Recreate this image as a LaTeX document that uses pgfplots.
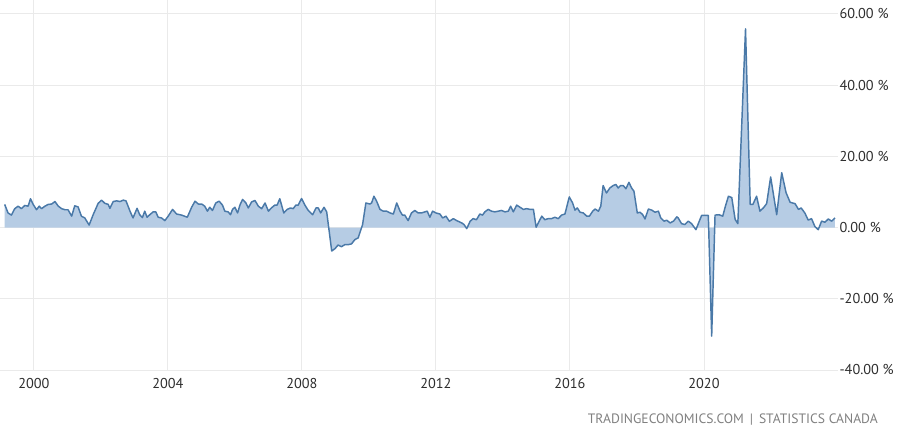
\documentclass[border=0pt]{standalone}
\usepackage{fontspec}
\setmainfont{PT Sans}
\usepackage{pgfplots}
\usepackage{pgfplotstable}
\pgfplotsset{compat=1.18}

\definecolor{lineblue}{RGB}{74,121,168}
\definecolor{fillblue}{RGB}{182,204,228}
\definecolor{gridgray}{RGB}{234,234,234}
\definecolor{ticktext}{RGB}{45,45,45}
\definecolor{srctext}{RGB}{128,128,128}

% year/month, yoy change in percent
\pgfplotstableread{
x y
1999.13 6.5
1999.23 4.1
1999.33 3.5
1999.43 5.3
1999.53 6.0
1999.63 5.3
1999.73 6.2
1999.83 6.0
1999.90 8.1
1999.98 6.5
2000.08 5.0
2000.16 6.0
2000.23 5.3
2000.33 6.0
2000.43 6.5
2000.53 6.6
2000.63 7.3
2000.73 6.0
2000.83 5.3
2000.93 5.0
2001.02 5.0
2001.13 3.2
2001.22 6.1
2001.32 5.8
2001.42 3.2
2001.52 2.7
2001.65 0.7
2001.77 3.6
2001.92 6.8
2002.02 7.7
2002.12 6.8
2002.22 6.5
2002.27 5.4
2002.37 7.3
2002.47 7.5
2002.57 7.3
2002.67 7.7
2002.75 7.5
2002.87 4.6
2002.96 2.7
2003.08 5.4
2003.16 3.6
2003.24 2.8
2003.31 4.6
2003.38 2.9
2003.46 3.6
2003.56 4.4
2003.64 4.4
2003.71 2.9
2003.81 2.7
2003.91 1.95
2004.01 3.2
2004.14 5.1
2004.26 3.8
2004.41 3.5
2004.58 2.9
2004.71 5.7
2004.81 7.4
2004.91 6.6
2005.01 6.6
2005.10 6.0
2005.18 4.6
2005.25 5.7
2005.33 4.8
2005.43 6.9
2005.53 7.4
2005.63 6.3
2005.70 4.6
2005.80 4.4
2005.87 3.6
2005.93 5.1
2006.00 5.7
2006.08 4.1
2006.15 6.3
2006.23 7.9
2006.33 6.9
2006.40 5.5
2006.50 7.2
2006.60 7.6
2006.70 6.0
2006.80 5.3
2006.90 6.9
2007.00 4.6
2007.09 5.5
2007.19 6.3
2007.26 6.3
2007.34 8.1
2007.46 4.1
2007.56 5.1
2007.66 5.5
2007.74 5.3
2007.82 6.3
2007.89 6.3
2007.99 8.15
2008.09 6.3
2008.19 4.8
2008.32 3.6
2008.42 5.5
2008.49 5.5
2008.56 4.1
2008.66 5.7
2008.74 4.4
2008.89 -6.6
2008.99 -5.9
2009.08 -4.9
2009.18 -5.4
2009.28 -4.8
2009.38 -4.8
2009.48 -4.6
2009.58 -3.4
2009.68 -2.9
2009.81 0.8
2009.91 6.9
2010.03 6.6
2010.08 6.9
2010.15 8.8
2010.23 7.4
2010.33 5.1
2010.43 4.6
2010.53 4.6
2010.63 4.1
2010.73 3.8
2010.83 6.9
2010.93 4.6
2011.00 3.5
2011.07 3.5
2011.17 1.95
2011.27 4.1
2011.37 4.8
2011.47 4.1
2011.57 4.1
2011.67 4.4
2011.74 4.6
2011.82 2.9
2011.90 4.6
2012.00 4.1
2012.12 3.8
2012.20 2.7
2012.30 3.2
2012.40 1.75
2012.52 2.5
2012.62 1.95
2012.70 1.6
2012.77 1.3
2012.84 0.84
2012.92 -0.3
2013.02 1.75
2013.11 2.5
2013.21 2.2
2013.31 3.8
2013.39 3.5
2013.46 4.4
2013.56 5.1
2013.66 4.6
2013.76 4.4
2013.86 4.6
2013.96 4.8
2014.06 4.4
2014.16 4.6
2014.23 6.0
2014.31 4.4
2014.41 6.3
2014.51 5.7
2014.61 5.1
2014.71 5.3
2014.81 5.1
2014.91 5.1
2014.99 0.1
2015.09 1.95
2015.16 3.2
2015.25 2.2
2015.35 2.5
2015.45 2.5
2015.55 2.9
2015.65 2.5
2015.75 3.5
2015.85 3.8
2015.98 8.6
2016.08 6.9
2016.15 4.9
2016.22 5.5
2016.30 4.3
2016.40 4.1
2016.50 3.2
2016.58 3.2
2016.68 4.6
2016.75 5.2
2016.85 4.6
2016.92 6.0
2016.99 11.8
2017.09 9.7
2017.19 11.1
2017.29 11.8
2017.37 12.1
2017.44 11.1
2017.51 11.8
2017.59 11.8
2017.67 10.9
2017.76 12.7
2017.84 11.1
2017.91 10.2
2018.01 4.1
2018.09 4.3
2018.17 3.65
2018.24 2.4
2018.34 5.2
2018.44 4.9
2018.54 4.3
2018.64 4.6
2018.71 2.7
2018.81 1.8
2018.89 2.05
2018.99 1.3
2019.09 1.8
2019.19 3.0
2019.23 2.7
2019.33 1.1
2019.43 0.84
2019.53 1.8
2019.63 1.1
2019.76 -0.6
2019.86 1.8
2019.93 3.4
2020.03 3.4
2020.13 3.4
2020.23 -30.5
2020.33 3.5
2020.45 3.6
2020.56 3.2
2020.64 6.0
2020.73 8.8
2020.83 8.4
2020.93 2.3
2021.01 1.1
2021.24 55.8
2021.38 6.5
2021.46 6.5
2021.57 8.8
2021.67 4.6
2021.77 5.5
2021.87 6.7
2021.99 14.2
2022.17 3.6
2022.32 15.4
2022.45 9.8
2022.57 7.1
2022.72 6.7
2022.82 5.1
2022.90 5.5
2023.01 4.1
2023.11 2.1
2023.21 2.5
2023.31 0.3
2023.41 -0.6
2023.51 1.8
2023.61 1.5
2023.71 2.4
2023.81 1.8
2023.91 2.7
}\yoy

\begin{document}
\begin{tikzpicture}
\useasboundingbox (0,0) rectangle (675pt,323.25pt);
\begin{axis}[
  at={(0pt,45.75pt)}, anchor=south west,
  scale only axis,
  width=628.5pt, height=277.5pt,
  xmin=1998.99, xmax=2024.0,
  ymin=-40, ymax=63.9,
  xtick={2000,2004,...,2020},
  ytick={-40,-20,...,60},
  xticklabel={\pgfmathprintnumber[1000 sep={}]{\tick}},
  yticklabel={\pgfmathprintnumber[fixed,fixed zerofill,precision=2]{\tick}~\%},
  /pgf/number format/assume math mode=true,
  yticklabel pos=right,
  axis line style={draw=none},
  major tick length=0pt,
  tick style={draw=none},
  xmajorgrids, ymajorgrids,
  grid style={draw=gridgray, line width=0.7pt},
  ticklabel style={font=\fontsize{10.7}{12}\selectfont, text=ticktext, inner sep=0pt},
  yticklabel style={anchor=west, xshift=1pt},
  xticklabel style={anchor=north, yshift=-6pt},
]
\addplot[draw=none, fill=fillblue] table {\yoy} \closedcycle;
\addplot[lineblue, line width=1.1pt, line join=round] table {\yoy};
\end{axis}
\node[anchor=base east, inner sep=0pt, text=srctext, font=\fontsize{10.2}{12}\selectfont]
  at (658.5pt,5.5pt) {TRADINGECONOMICS.COM \,|\, STATISTICS CANADA};
\end{tikzpicture}
\end{document}
